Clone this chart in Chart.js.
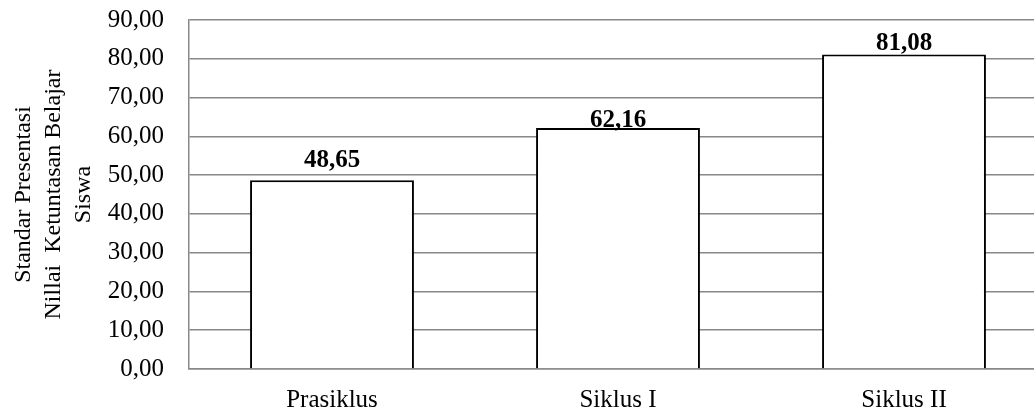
<!DOCTYPE html>
<html>
<head>
<meta charset="utf-8">
<script src="https://cdn.jsdelivr.net/npm/chart.js@4/dist/chart.umd.min.js"></script>
<style>
  html, body { margin: 0; padding: 0; background: #fff; overflow: hidden; }
  #wrap { width: 1047px; height: 414px; position: relative; }
</style>
</head>
<body>
<div id="wrap"><canvas id="c"></canvas></div>
<script>
const categories = ['Prasiklus', 'Siklus I', 'Siklus II'];
const values = [48.65, 62.16, 81.08];
const yTitleLines = ['Standar Presentasi', 'Nillai  Ketuntasan Belajar', 'Siswa'];
const yMin = 0, yMax = 90, yStep = 10;

const fmt = v => Number(v).toFixed(2).replace('.', ',');
const FONT = "'Liberation Serif', 'Times New Roman', serif";

const valueLabels = {
  id: 'valueLabels',
  afterDatasetsDraw(chart, args, opts) {
    const ctx = chart.ctx;
    const meta = chart.getDatasetMeta(0);
    ctx.save();
    ctx.font = 'bold 25px ' + FONT;
    ctx.fillStyle = '#000';
    ctx.textAlign = 'center';
    ctx.textBaseline = 'alphabetic';
    meta.data.forEach((bar, i) => {
      const lift = (opts.lift && opts.lift[i] != null) ? opts.lift[i] : 5;
      ctx.fillText(fmt(chart.data.datasets[0].data[i]), bar.x, bar.y - lift);
    });
    ctx.restore();
  }
};

new Chart(document.getElementById('c'), {
  type: 'bar',
  data: {
    labels: categories,
    datasets: [{
      data: values,
      backgroundColor: '#ffffff',
      borderColor: '#000000',
      borderWidth: 2,
      barPercentage: 0.573,
      categoryPercentage: 1.0
    }]
  },
  options: {
    responsive: true,
    maintainAspectRatio: false,
    animation: false,
    devicePixelRatio: 1,
    layout: { padding: { top: 20, left: 0, right: 0, bottom: 0 } },
    plugins: {
      legend: { display: false },
      tooltip: { enabled: false },
      valueLabels: { lift: [13, 1, 5] }
    },
    scales: {
      x: {
        grid: { display: false, drawTicks: false },
        border: { display: true, color: '#888888', width: 1.5 },
        ticks: {
          color: '#000',
          padding: 16,
          font: { family: FONT, size: 25 },
          maxRotation: 0
        },
        afterFit: s => { s.height = 45; s.paddingLeft = 0; s.paddingRight = 0; }
      },
      y: {
        min: yMin,
        max: yMax,
        grid: { color: '#888888', lineWidth: 1.5, drawTicks: false },
        border: { display: true, color: '#888888', width: 1.5 },
        ticks: {
          stepSize: yStep,
          color: '#000',
          padding: 25,
          font: { family: FONT, size: 25 },
          callback: v => fmt(v)
        },
        title: {
          display: true,
          text: yTitleLines,
          color: '#000',
          font: { family: FONT, size: 24, lineHeight: 30 / 24 },
          padding: { top: 9, bottom: 0 }
        },
        afterFit: s => { s.width = 189; s.paddingTop = 0; s.paddingBottom = 0; }
      }
    }
  },
  plugins: [valueLabels]
});
</script>
</body>
</html>
